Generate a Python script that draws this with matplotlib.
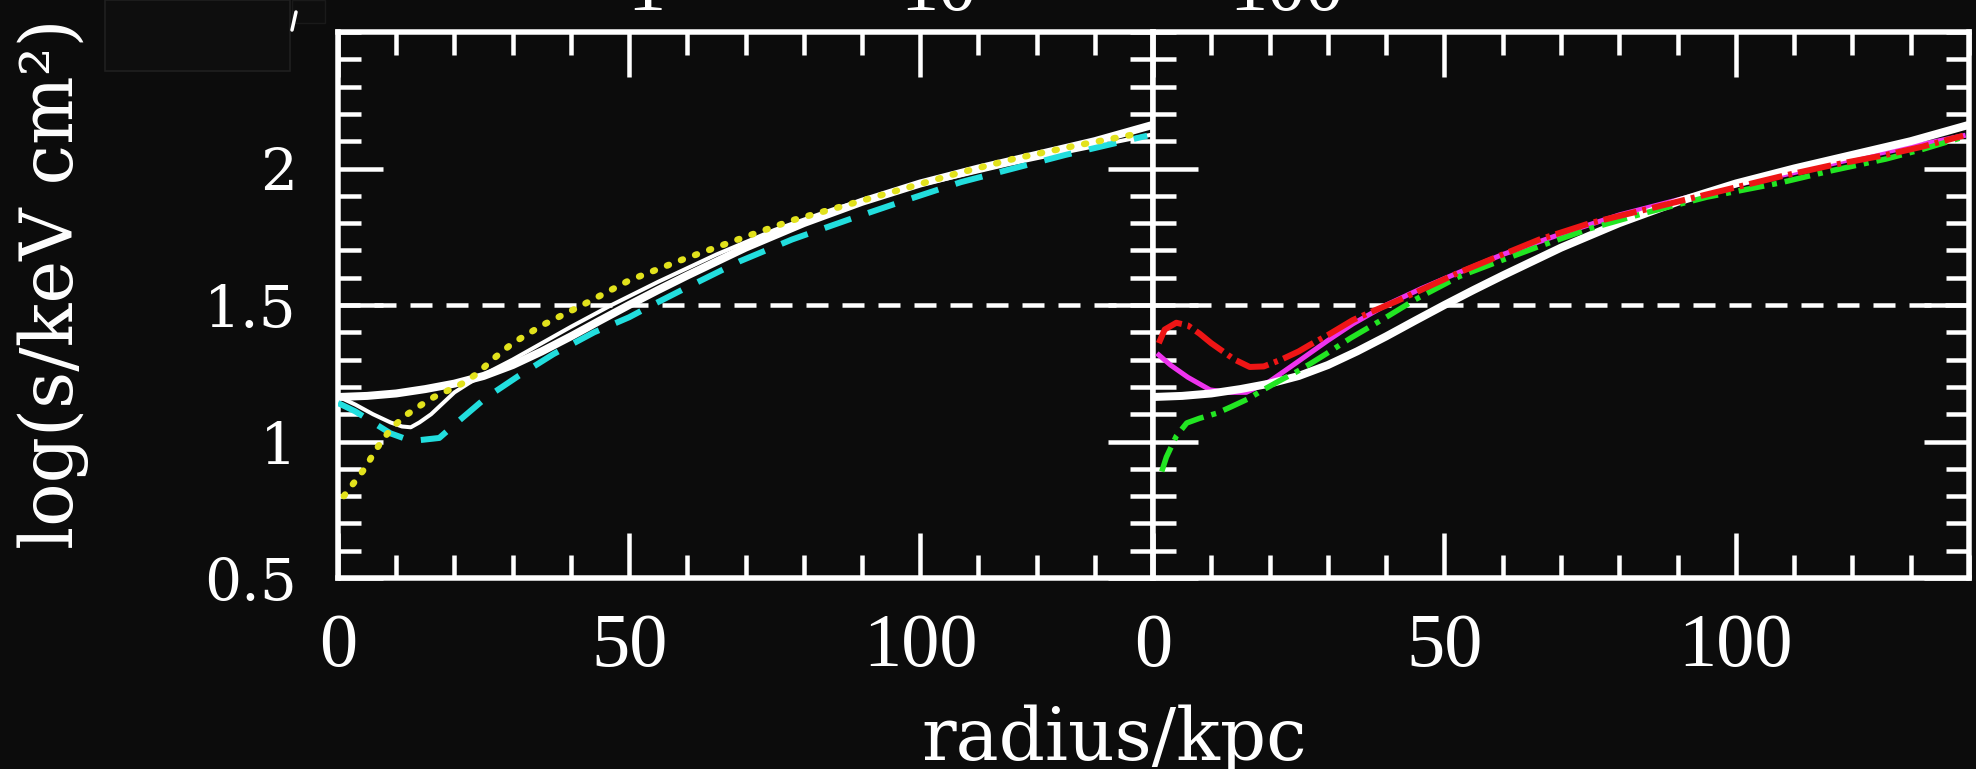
import matplotlib
matplotlib.use("Agg")
import matplotlib.pyplot as plt
import matplotlib.font_manager as fm
from matplotlib.patches import Rectangle
from matplotlib.lines import Line2D
from matplotlib.ticker import MultipleLocator

# ---------------- data: entropy profiles, log(s) versus radius in kpc ----------------
# reference profile (thick white, drawn in both panels)
ref_r = [0, 5, 10, 15, 20, 25, 30, 35, 40, 45, 50, 55, 60, 70, 80, 90, 100, 110, 120, 130, 140]
ref_s = [1.163, 1.167, 1.176, 1.192, 1.212, 1.24, 1.28, 1.33, 1.385, 1.443, 1.50, 1.555,
         1.608, 1.71, 1.80, 1.878, 1.945, 2.0, 2.05, 2.10, 2.16]

# left panel
thin_r = [0, 3, 6, 9, 11, 12.5, 14, 16, 18, 20, 22.5, 25, 30, 35, 40, 47, 55, 65, 75, 85,
          95, 105, 115, 125, 140]
thin_s = [1.165, 1.135, 1.10, 1.07, 1.055, 1.052, 1.07, 1.10, 1.14, 1.18, 1.214, 1.245,
          1.30, 1.36, 1.42, 1.50, 1.585, 1.685, 1.775, 1.85, 1.915, 1.965, 2.015, 2.06, 2.125]

yel_r = [1.0, 3.1, 4.8, 6.2, 7.9, 9.5, 11.7, 14.3, 16.5, 19.1, 21.5, 24, 26.5, 30, 35, 42,
         50, 59, 70, 78, 88, 97, 106, 116, 127, 138]
yel_s = [0.80, 0.859, 0.907, 0.96, 1.013, 1.055, 1.097, 1.134, 1.163, 1.189, 1.214, 1.25,
         1.30, 1.36, 1.425, 1.50, 1.59, 1.665, 1.75, 1.81, 1.87, 1.925, 1.98, 2.035, 2.085, 2.13]

cyan_r = [0, 3, 6, 9, 11.2, 14, 17.4, 21, 25.4, 31, 37, 44, 50, 54, 60, 69, 78, 88, 97,
          107, 116, 125, 139]
cyan_s = [1.141, 1.11, 1.07, 1.03, 1.013, 1.005, 1.013, 1.08, 1.16, 1.24, 1.32, 1.40,
          1.455, 1.50, 1.565, 1.66, 1.74, 1.815, 1.88, 1.95, 2.0, 2.05, 2.12]

# right panel
red_r = [1.0, 2, 4, 6, 8, 10, 12, 14, 16.6, 19, 22, 25, 27, 30, 34.3, 38, 41.7, 47, 52.6,
         60, 66.3, 75, 84.6, 95, 107.5, 116, 125.8, 132, 139]
red_s = [1.36, 1.41, 1.435, 1.425, 1.395, 1.36, 1.33, 1.30, 1.273, 1.275, 1.30, 1.33,
         1.355, 1.39, 1.445, 1.48, 1.513, 1.565, 1.62, 1.685, 1.74, 1.80, 1.85, 1.905,
         1.97, 2.01, 2.05, 2.08, 2.12]

mag_r = [1.0, 3, 6, 9.8, 13, 16, 20, 24.7, 30, 34.3, 40, 46, 52, 60, 70, 80, 90, 100, 110,
         120, 130, 139]
mag_s = [1.317, 1.28, 1.235, 1.189, 1.18, 1.18, 1.22, 1.29, 1.37, 1.431, 1.50, 1.56,
         1.615, 1.685, 1.76, 1.83, 1.885, 1.94, 1.985, 2.035, 2.08, 2.12]

grn_r = [1.5, 2.3, 4, 5.8, 8, 11, 13.5, 16.3, 18.9, 21.5, 24.6, 27, 30, 34, 40, 45, 52.6,
         60, 66.3, 75, 84.6, 95, 107.5, 116, 125.8, 132, 139]
grn_s = [0.89, 0.943, 1.02, 1.068, 1.085, 1.104, 1.128, 1.156, 1.189, 1.22, 1.255, 1.285,
         1.325, 1.38, 1.455, 1.52, 1.605, 1.665, 1.715, 1.78, 1.838, 1.895, 1.947, 1.99,
         2.035, 2.07, 2.115]

threshold = 1.5
x_ticks = [0, 50, 100]
y_ticks = [0.5, 1, 1.5, 2]
y_tick_labels = ["0.5", "1", "1.5", "2"]
top_labels = ["1", "10", "100"]

# ---------------- styling ----------------
BG = "#0c0c0c"
W, H = 1976, 769
plt.rcParams["lines.scale_dashes"] = False

installed = {f.name for f in fm.fontManager.ttflist}


def pick(*names):
    for n in names:
        if n in installed:
            return n
    return "DejaVu Serif"


F_YTICK = pick("DejaVu Serif")
F_XTICK = pick("Liberation Serif", "DejaVu Serif")
F_LABEL = pick("DejaVu Serif")


def px(v):
    return v * 72.0 / 100.0


fig = plt.figure(figsize=(W / 100, H / 100), dpi=100, facecolor=BG)


def fx(x):
    return x / W


def fy(y):
    return 1 - y / H


ax_l = fig.add_axes([fx(338), fy(578), (1153 - 338) / W, (578 - 32) / H])
ax_r = fig.add_axes([fx(1153), fy(578), (1969 - 1153) / W, (578 - 32) / H])

for ax in (ax_l, ax_r):
    ax.set_facecolor(BG)
    ax.set_xlim(0, 140)
    ax.set_ylim(0.5, 2.5)
    ax.xaxis.set_major_locator(MultipleLocator(50))
    ax.xaxis.set_minor_locator(MultipleLocator(10))
    ax.yaxis.set_major_locator(MultipleLocator(0.5))
    ax.yaxis.set_minor_locator(MultipleLocator(0.1))
    ax.tick_params(which="both", direction="in", top=True, right=True, bottom=True,
                   left=True, color="white", width=px(4.5))
    ax.tick_params(which="major", length=px(45))
    ax.tick_params(which="minor", length=px(23))
    ax.tick_params(axis="x", which="major", pad=px(35), labelcolor="white")
    ax.tick_params(axis="y", which="major", pad=px(41), labelcolor="white")
    ax.set_xticks(x_ticks)
    ax.set_xticklabels([str(v) for v in x_ticks], fontsize=55, family=F_XTICK)
    for sp in ax.spines.values():
        sp.set_color("white")
        sp.set_linewidth(px(5.5))
    ax.axhline(threshold, color="white", lw=px(4.5), dashes=(px(22), px(14)), zorder=2)

ax_l.set_yticks(y_ticks)
ax_l.set_yticklabels(y_tick_labels, fontsize=42, family=F_YTICK)
ax_r.set_yticks(y_ticks)
ax_r.set_yticklabels([])

# left panel curves
ax_l.plot(ref_r, ref_s, color="white", lw=px(8), solid_capstyle="round", zorder=3)
ax_l.plot(thin_r, thin_s, color="white", lw=px(4), zorder=3)
ax_l.plot(cyan_r, cyan_s, color="#22dede", lw=px(6), dashes=(px(28), px(18)), zorder=4)
ax_l.plot(yel_r, yel_s, color="#e2e21c", lw=px(6.5), dashes=(px(2), px(13)),
          dash_capstyle="round", zorder=4)

# right panel curves
ax_r.plot(mag_r, mag_s, color="#ee33ee", lw=px(5), zorder=3)
ax_r.plot(ref_r, ref_s, color="white", lw=px(8), solid_capstyle="round", zorder=3)
ax_r.plot(grn_r, grn_s, color="#22e622", lw=px(5.5),
          dashes=(px(26), px(8), px(5), px(8)), zorder=4)
ax_r.plot(red_r, red_s, color="#ee1515", lw=px(6),
          dashes=(px(34), px(6), px(4), px(6)), zorder=4)

# axis titles
fig.text(fx(1114), fy(760), "radius/kpc", color="white", fontsize=52, family=F_LABEL,
         ha="center", va="baseline")
fig.text(fx(53), fy(549), "log(s/keV cm²)", color="white", fontsize=52, family=F_LABEL,
         rotation=90, ha="center", va="bottom")

# tick labels of the panel above, cut by the top edge
for lab, xp in zip(top_labels, [646, 938, 1287]):
    fig.text(fx(xp), fy(10), lab, color="white", fontsize=55, family=F_XTICK,
             ha="center", va="baseline")

# faint frames near the top-left corner
fig.add_artist(Rectangle((fx(105), fy(71)), 185 / W, 71 / H, transform=fig.transFigure,
                         facecolor="#0e0e0e", edgecolor="#202020", lw=1.2))
fig.add_artist(Rectangle((fx(292), fy(23)), 33 / W, 23 / H, transform=fig.transFigure,
                         facecolor="#0e0e0e", edgecolor="#1a1a1a", lw=1.0))
fig.add_artist(Line2D([fx(296), fx(292)], [fy(12), fy(30)], transform=fig.transFigure,
                      color="white", lw=px(3.5), solid_capstyle="round"))

fig.savefig("out.png", dpi=100, facecolor=BG)
